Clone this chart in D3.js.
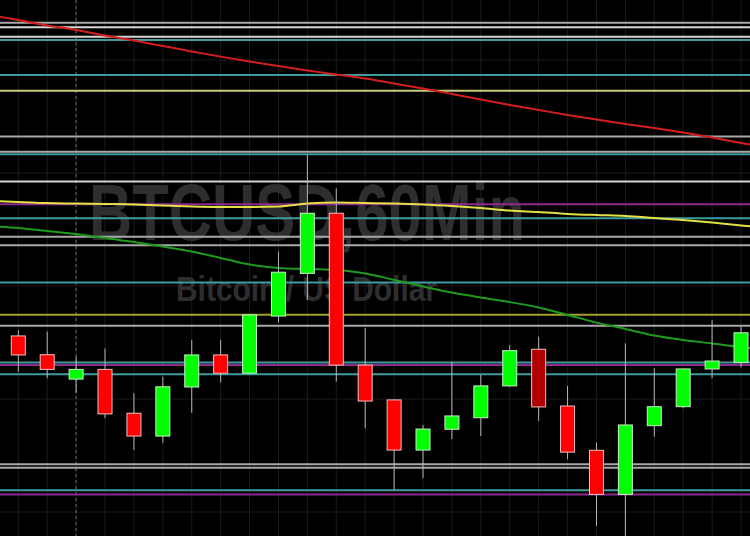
<!DOCTYPE html>
<html>
<head>
<meta charset="utf-8">
<script src="https://cdn.jsdelivr.net/npm/d3@7/dist/d3.min.js"></script>
<style>
  html, body { margin: 0; padding: 0; background: #000; }
  svg { display: block; }
</style>
</head>
<body>
<svg id="chart" width="750" height="536"></svg>
<script>
// ---------------- DATA ----------------
const symbolTitle = "BTCUSD,60Min";
const symbolName = "Bitcoin / US Dollar";

// 26 hourly bars (index 0..25)
const opens  = [9177.9, 9169.6, 9158.8, 9163.1, 9143.7, 9133.6, 9155.3, 9169.5, 9161.4, 9186.7, 9205.6, 9232.2, 9165.0,
                9149.6, 9127.4, 9136.6, 9141.7, 9155.8, 9172.0, 9146.9, 9127.3, 9107.8, 9138.2, 9146.6, 9163.3, 9166.2];
const highs  = [9180.5, 9179.8, 9168.6, 9172.4, 9152.5, 9159.9, 9176.1, 9176.1, 9187.5, 9215.2, 9258.0, 9243.2, 9181.4,
                9150.0, 9138.5, 9166.5, 9160.6, 9173.9, 9177.6, 9155.8, 9130.7, 9174.6, 9163.6, 9163.5, 9185.0, 9182.0];
const lows   = [9162.0, 9159.2, 9152.8, 9141.5, 9127.4, 9130.7, 9143.9, 9157.2, 9161.0, 9183.8, 9193.8, 9157.7, 9137.0,
                9109.7, 9114.9, 9132.2, 9133.6, 9155.3, 9140.3, 9123.3, 9093.8, 9087.6, 9133.3, 9145.9, 9159.2, 9164.0];
const closes = [9169.5, 9163.1, 9163.1, 9143.4, 9133.6, 9155.4, 9169.5, 9161.4, 9187.2, 9206.1, 9232.2, 9165.0, 9149.1,
                9127.4, 9136.7, 9142.5, 9155.8, 9171.4, 9146.5, 9126.5, 9107.8, 9138.5, 9146.6, 9163.3, 9166.8, 9179.3];
const selectedBar = 18; // bar drawn in the darker "selected" shade

// Moving averages, bar index -1 .. 26 (one off-screen bar on each side)
const maIndex = d3.range(-1, 27);
const maSlow = [9319.9, 9317.7, 9315.3, 9313.3, 9310.8, 9308.6, 9306.2, 9303.8, 9301.5, 9299.3, 9297.3, 9295.4, 9293.6, 9291.8,
                9289.6, 9287.4, 9285.0, 9282.5, 9280.1, 9277.9, 9275.7, 9273.7, 9271.7, 9269.9, 9267.9, 9265.7, 9263.3, 9261.1];
const maMid  = [9237.6, 9237.2, 9236.7, 9236.5, 9236.3, 9236.1, 9235.6, 9235.2, 9235.0, 9235.0, 9235.2, 9236.5, 9236.9, 9236.7,
                9236.5, 9236.1, 9235.4, 9234.5, 9233.4, 9232.7, 9231.9, 9231.4, 9231.0, 9230.1, 9229.2, 9228.1, 9226.8, 9225.7];
const maFast = [9226.5, 9225.7, 9224.3, 9223.0, 9221.2, 9219.5, 9217.5, 9215.3, 9212.4, 9209.5, 9208.0, 9207.5, 9207.1, 9205.5,
                9202.7, 9199.8, 9197.1, 9194.9, 9192.9, 9190.5, 9187.2, 9183.8, 9181.0, 9178.1, 9176.1, 9174.6, 9173.0, 9171.7];

// Horizontal price levels
const grayLevels   = [9316.5, 9266.2, 9259.4, 9221.8, 9218.0, 9182.4, 9121.1, 9119.6];
const silverLevels = [9314.5, 9310.3, 9246.2];
const tealLevels   = [9308.8, 9293.4, 9258.3, 9230.0, 9201.6, 9166.1, 9160.9, 9109.6];
const khakiLevels  = [9286.4];
const oliveLevels  = [9187.3];
const purpleLevels = [9236.2, 9165.0, 9107.7];

// Grid
const priceGrid = [9100, 9150, 9200, 9250, 9300];
const daySeparator = 2; // bar index of the session break
const priceDomain = [9089.38, 9326.55];

// ---------------- CHART ----------------
const W = 750, H = 536;
const svg = d3.select("#chart");
svg.append("rect").attr("width", W).attr("height", H).attr("fill", "#000");

const x = d3.scaleLinear().domain([0, 25]).range([18.3, 741]);
const y = d3.scaleLinear().domain(priceDomain).range([H, 0]);

// faint grid
const grid = svg.append("g");
grid.selectAll("line.v").data(d3.range(0, 26)).join("line")
  .attr("x1", d => x(d)).attr("x2", d => x(d)).attr("y1", 0).attr("y2", H)
  .attr("stroke", "#1b1b1b").attr("stroke-width", 1);
grid.selectAll("line.h").data(priceGrid).join("line")
  .attr("x1", 0).attr("x2", W).attr("y1", d => y(d)).attr("y2", d => y(d))
  .attr("stroke", "#1b1b1b").attr("stroke-width", 1);
grid.append("line")
  .attr("x1", x(daySeparator)).attr("x2", x(daySeparator)).attr("y1", 0).attr("y2", H)
  .attr("stroke", "#6a6a6a").attr("stroke-width", 1).attr("stroke-dasharray", "3,3");

// watermark
svg.append("text")
  .attr("x", 89).attr("y", 240)
  .attr("font-family", "'Liberation Sans Narrow', 'Liberation Sans', Arial, sans-serif")
  .attr("font-weight", "bold").attr("font-size", 79)
  .attr("textLength", 436).attr("lengthAdjust", "spacingAndGlyphs")
  .attr("fill", "#2e2e2e").text(symbolTitle);
svg.append("text")
  .attr("x", 176).attr("y", 301)
  .attr("font-family", "'Liberation Sans', Arial, sans-serif")
  .attr("font-weight", "bold").attr("font-size", 35)
  .attr("textLength", 261).attr("lengthAdjust", "spacingAndGlyphs")
  .attr("fill", "#2e2e2e").text(symbolName);

// horizontal levels
const levelSets = [
  [grayLevels, "#a8a8a8"],
  [silverLevels, "#d6d6d6"],
  [tealLevels, "#3f9c9c"],
  [khakiLevels, "#c9c97c"],
  [oliveLevels, "#a3a32a"],
  [purpleLevels, "#8e2a8e"]
];
const levels = svg.append("g");
levelSets.forEach(([arr, col]) => {
  levels.append("g").selectAll("line").data(arr).join("line")
    .attr("x1", 0).attr("x2", W)
    .attr("y1", d => y(d)).attr("y2", d => y(d))
    .attr("stroke", col).attr("stroke-width", 2);
});

// moving averages
const lineGen = arr => d3.line().x((d, i) => x(maIndex[i])).y(d => y(d)).curve(d3.curveMonotoneX)(arr);
const maG = svg.append("g").attr("fill", "none").attr("stroke-width", 2);
maG.append("path").attr("d", lineGen(maSlow)).attr("stroke", "#d41e1e");
maG.append("path").attr("d", lineGen(maMid)).attr("stroke", "#e3e048");
maG.append("path").attr("d", lineGen(maFast)).attr("stroke", "#1f9a1f");

// candles
const bars = d3.range(opens.length).map(i => ({
  i, o: opens[i], h: highs[i], l: lows[i], c: closes[i]
}));
const bodyW = 14;
const cg = svg.append("g");
cg.selectAll("line.wick").data(bars).join("line")
  .attr("x1", d => x(d.i)).attr("x2", d => x(d.i))
  .attr("y1", d => y(d.h)).attr("y2", d => y(d.l))
  .attr("stroke", "#b5b5b5").attr("stroke-width", 1);
cg.selectAll("rect.body").data(bars).join("rect")
  .attr("x", d => x(d.i) - bodyW / 2)
  .attr("width", bodyW)
  .attr("y", d => y(Math.max(d.o, d.c)))
  .attr("height", d => Math.max(1, Math.abs(y(d.o) - y(d.c))))
  .attr("fill", d => d.i === selectedBar ? "#b00000" : (d.c >= d.o ? "#00ff00" : "#ff0000"))
  .attr("stroke", d => d.c >= d.o ? "#c8f0c8" : "#f0c0c0")
  .attr("stroke-width", 1);
</script>
</body>
</html>
